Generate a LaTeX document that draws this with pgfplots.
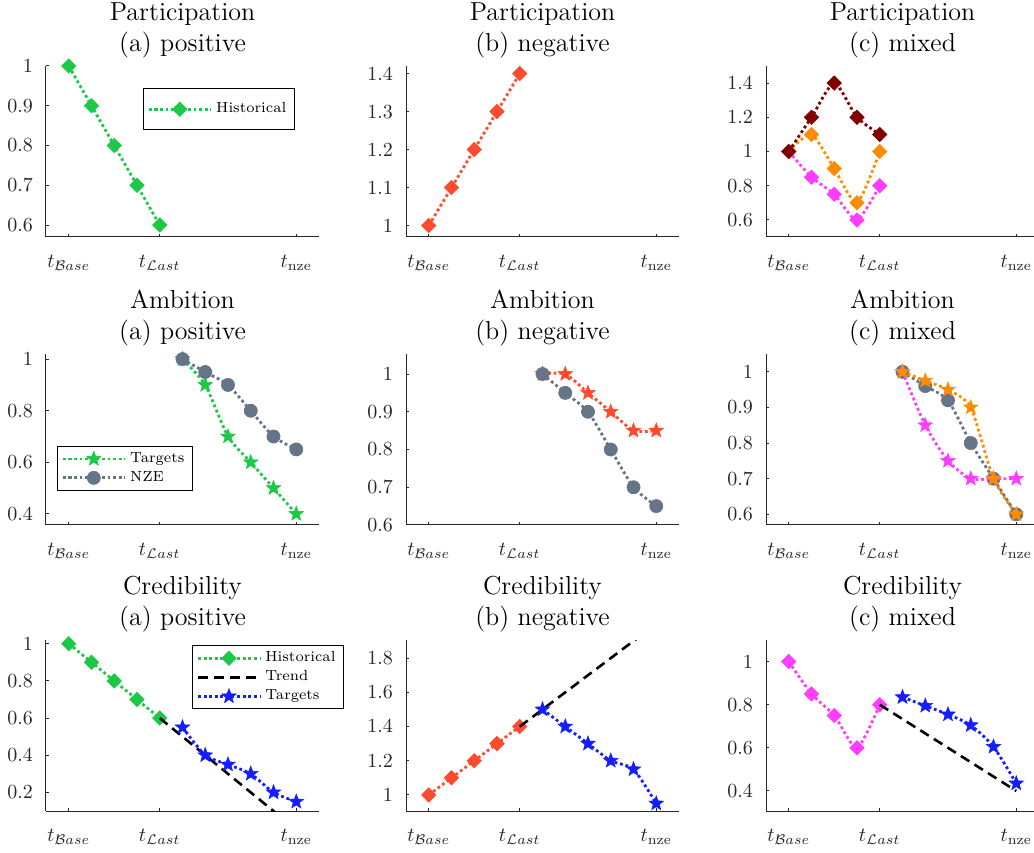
\documentclass[border=0pt]{standalone}
\usepackage{pgfplots}
\pgfplotsset{compat=1.18}
\usepackage{amsmath}

\definecolor{cgreen}{RGB}{28,200,72}
\definecolor{cred}{RGB}{255,75,45}
\definecolor{cdark}{RGB}{128,0,0}
\definecolor{corange}{RGB}{255,140,0}
\definecolor{cmag}{RGB}{255,60,255}
\definecolor{cgrey}{RGB}{102,116,136}
\definecolor{cblue}{RGB}{20,30,255}
\definecolor{axgray}{RGB}{38,38,38}

\pgfdeclareplotmark{pentagram}{%
  \pgfpathmoveto{\pgfpointpolar{90}{\pgfplotmarksize}}%
  \pgfpathlineto{\pgfpointpolar{126}{0.42\pgfplotmarksize}}%
  \pgfpathlineto{\pgfpointpolar{162}{\pgfplotmarksize}}%
  \pgfpathlineto{\pgfpointpolar{198}{0.42\pgfplotmarksize}}%
  \pgfpathlineto{\pgfpointpolar{234}{\pgfplotmarksize}}%
  \pgfpathlineto{\pgfpointpolar{270}{0.42\pgfplotmarksize}}%
  \pgfpathlineto{\pgfpointpolar{306}{\pgfplotmarksize}}%
  \pgfpathlineto{\pgfpointpolar{342}{0.42\pgfplotmarksize}}%
  \pgfpathlineto{\pgfpointpolar{18}{\pgfplotmarksize}}%
  \pgfpathlineto{\pgfpointpolar{54}{0.42\pgfplotmarksize}}%
  \pgfpathclose
  \pgfusepathqfillstroke
}

\pgfplotsset{
  panel/.style={
    scale only axis, width=136.5pt, height=85.5pt, anchor=south west,
    xmin=-1, xmax=11, xtick={0,4,10},
    xticklabels={$t_{\mathcal{B}ase}$,$t_{\mathcal{L}ast}$,$t_{\mathrm{nze}}$},
    axis x line*=bottom, axis y line*=left,
    axis line style={-, draw=axgray, line width=0.5pt},
    tick align=inside, major tick length=1.7pt,
    tick style={draw=axgray, line width=0.5pt},
    tick label style={font=\fontsize{10}{12}\selectfont, text=axgray},
    xticklabel style={yshift=-5.5pt},
    yticklabel style={xshift=-3pt},
    title style={font=\fontsize{13}{15.5}\selectfont, align=center, anchor=south, inner sep=0pt, yshift=-2pt},
    clip mode=individual,
    legend cell align=left,
    legend style={font=\fontsize{7.3}{8.5}\selectfont, draw=black, fill=white, line width=0.5pt,
      inner xsep=2pt, inner ysep=1pt, row sep=-1pt, anchor=north west},
    legend image code/.code={\draw[mark repeat=2,mark phase=2,#1] plot coordinates {(0pt,0pt) (15.5pt,0pt) (31pt,0pt)};},
  },
  ser/.style={line width=1.4pt, dash pattern=on 1.4pt off 1.4pt, smooth, tension=0.4},
  dia/.style={ser, color=#1, mark=square*, mark size=2.55pt, mark options={solid, rotate=45, fill=#1, line width=0.3pt}},
  star/.style={ser, color=#1, mark=pentagram, mark size=3.8pt, mark options={solid, fill=#1, line width=0.3pt}},
  circ/.style={ser, color=#1, mark=*, mark size=3.3pt, mark options={solid, fill=#1, line width=0.3pt}},
  trend/.style={black, line width=1.3pt, dash pattern=on 5pt off 3pt},
}

\begin{document}
\begin{tikzpicture}
% ---------------- Row 1: Participation
\begin{axis}[panel, at={(23pt,307.5pt)}, ymin=0.57, ymax=1.0, ytick={0.6,0.7,0.8,0.9,1},
  title={Participation\\(a) positive}, legend style={at={(0.355,0.87)}, inner ysep=5pt}]
\addplot[dia=cgreen] coordinates {(0,1) (1,0.9) (2,0.8) (3,0.7) (4,0.6)};
\addlegendentry{Historical}
\end{axis}
\begin{axis}[panel, at={(203pt,307.5pt)}, ymin=0.97, ymax=1.42, ytick={1,1.1,1.2,1.3,1.4},
  title={Participation\\(b) negative}]
\addplot[dia=cred] coordinates {(0,1) (1,1.1) (2,1.2) (3,1.3) (4,1.4)};
\end{axis}
\begin{axis}[panel, at={(383pt,307.5pt)}, ymin=0.5, ymax=1.5, ytick={0.6,0.8,1,1.2,1.4},
  title={Participation\\(c) mixed}]
\addplot[dia=cmag] coordinates {(0,1) (1,0.85) (2,0.75) (3,0.6) (4,0.8)};
\addplot[dia=corange] coordinates {(0,1) (1,1.1) (2,0.9) (3,0.7) (4,1.0)};
\addplot[dia=cdark] coordinates {(0,1) (1,1.2) (2,1.4) (3,1.2) (4,1.1)};
\end{axis}
% ---------------- Row 2: Ambition
\begin{axis}[panel, at={(23pt,163.5pt)}, ymin=0.357, ymax=1.02, ytick={0.4,0.6,0.8,1},
  title={Ambition\\(a) positive}, legend style={at={(0.04,0.462)}}]
\addplot[star=cgreen] coordinates {(5,1) (6,0.9) (7,0.7) (8,0.6) (9,0.5) (10,0.4)};
\addlegendentry{Targets}
\addplot[circ=cgrey] coordinates {(5,1) (6,0.95) (7,0.9) (8,0.8) (9,0.7) (10,0.65)};
\addlegendentry{NZE}
\end{axis}
\begin{axis}[panel, at={(203pt,163.5pt)}, ymin=0.6, ymax=1.053, ytick={0.6,0.7,0.8,0.9,1},
  title={Ambition\\(b) negative}]
\addplot[star=cred] coordinates {(5,1) (6,1) (7,0.95) (8,0.9) (9,0.85) (10,0.85)};
\addplot[circ=cgrey] coordinates {(5,1) (6,0.95) (7,0.9) (8,0.8) (9,0.7) (10,0.65)};
\end{axis}
\begin{axis}[panel, at={(383pt,163.5pt)}, ymin=0.57, ymax=1.05, ytick={0.6,0.7,0.8,0.9,1},
  title={Ambition\\(c) mixed}]
\addplot[circ=cgrey] coordinates {(5,1) (6,0.96) (7,0.92) (8,0.8) (9,0.7) (10,0.6)};
\addplot[star=cmag] coordinates {(5,1) (6,0.85) (7,0.75) (8,0.7) (9,0.7) (10,0.7)};
\addplot[star=corange] coordinates {(5,1) (6,0.975) (7,0.95) (8,0.9) (9,0.7) (10,0.6)};
\end{axis}
% ---------------- Row 3: Credibility
\begin{axis}[panel, at={(23pt,20.5pt)}, ymin=0.1, ymax=1.02, ytick={0.2,0.4,0.6,0.8,1},
  title={Credibility\\(a) positive}, legend style={at={(0.535,0.97)}}]
\addplot[dia=cgreen] coordinates {(0,1) (1,0.9) (2,0.8) (3,0.7) (4,0.6)};
\addlegendentry{Historical}
\addplot[trend] coordinates {(4,0.6) (10,0.0)};
\addlegendentry{Trend}
\addplot[star=cblue] coordinates {(5,0.55) (6,0.4) (7,0.35) (8,0.3) (9,0.2) (10,0.15)};
\addlegendentry{Targets}
\end{axis}
\begin{axis}[panel, at={(203pt,20.5pt)}, ymin=0.906, ymax=1.906, ytick={1,1.2,1.4,1.6,1.8},
  title={Credibility\\(b) negative}]
\addplot[dia=cred] coordinates {(0,1) (1,1.1) (2,1.2) (3,1.3) (4,1.4)};
\addplot[trend] coordinates {(4,1.4) (10,2.0)};
\addplot[star=cblue] coordinates {(5,1.5) (6,1.4) (7,1.3) (8,1.2) (9,1.15) (10,0.95)};
\end{axis}
\begin{axis}[panel, at={(383pt,20.5pt)}, ymin=0.307, ymax=1.1, ytick={0.4,0.6,0.8,1},
  title={Credibility\\(c) mixed}]
\addplot[dia=cmag] coordinates {(0,1) (1,0.85) (2,0.75) (3,0.6) (4,0.8)};
\addplot[trend] coordinates {(4,0.8) (10,0.4)};
\addplot[star=cblue] coordinates {(5,0.835) (6,0.795) (7,0.755) (8,0.705) (9,0.605) (10,0.435)};
\end{axis}
\pgfresetboundingbox
\useasboundingbox (0,0) rectangle (517pt,426pt);
\end{tikzpicture}
\end{document}
